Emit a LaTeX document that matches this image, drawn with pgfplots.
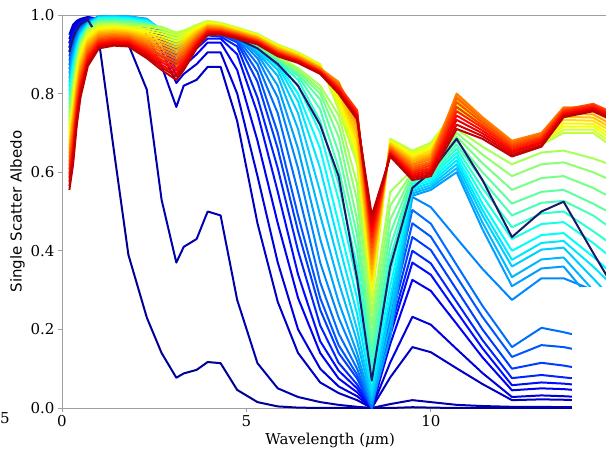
\documentclass[border=0pt]{standalone}
\usepackage{fontspec}
\setmainfont{DejaVu Serif}
\newfontfamily\sansfont{DejaVu Sans}
\usepackage{pgfplots}
\usepackage{pgfplotstable}
\pgfplotsset{compat=1.18}

% jet colours for the 40 curves
\pgfplotsforeachungrouped \k in {0,1,...,39}{%
  \pgfmathsetmacro\jt{0.02+0.92*\k/39}%
  \pgfmathsetmacro\jr{max(0,min(1,1.5-abs(4*\jt-3)))}%
  \pgfmathsetmacro\jg{max(0,min(1,1.5-abs(4*\jt-2)))}%
  \pgfmathsetmacro\jb{max(0,min(1,1.5-abs(4*\jt-1)))}%
  \definecolor{jet\k}{rgb}{\jr,\jg,\jb}%
}
\definecolor{navyc}{rgb}{0.10,0.10,0.42}

\pgfplotstableread{
id w1 w2 w3 w4 w5 w6 w7 w8 w9 w10 w11 w12 w13 w14 w15 w16 w17 w18 w19 w20 w21 w22 w23 w24 w25 w26 w27 w28 w29 w30 w31 w32 w33
x 0.2 0.3 0.4 0.5 0.7 1.0 1.4 1.8 2.3 2.7 3.1 3.3 3.65 3.95 4.3 4.75 5.3 5.85 6.4 7.0 7.5 8.0 8.4 8.9 9.5 10.0 10.7 11.4 12.2 13.0 13.6 14.4 15.0
c0 0.928 0.959 0.974 0.983 0.992 0.935 0.660 0.390 0.230 0.140 0.077 0.088 0.097 0.117 0.114 0.046 0.015 0.004 0.001 0 0 0 0 0 0.002 0.001 0 0 0 0 0 0 0
c1 0.917 0.950 0.969 0.980 0.990 0.945 0.940 0.925 0.810 0.530 0.370 0.410 0.430 0.500 0.490 0.275 0.114 0.050 0.028 0.015 0.008 0.003 0 0.010 0.020 0.015 0.008 0.005 0.003 0.003 0.002 0.002 0.001
c2 0.950 0.975 0.985 0.990 0.995 0.990 0.988 0.985 0.950 0.870 0.766 0.820 0.835 0.868 0.868 0.730 0.470 0.270 0.140 0.065 0.038 0.020 0 0.078 0.155 0.142 0.101 0.061 0.020 0.022 0.021 0.018 0.015
c3 0.939 0.967 0.980 0.987 0.993 0.991 0.990 0.988 0.965 0.910 0.827 0.850 0.875 0.905 0.905 0.800 0.590 0.370 0.200 0.100 0.055 0.030 0 0.116 0.232 0.212 0.150 0.089 0.028 0.032 0.030 0.026 0.022
c4 0.928 0.959 0.974 0.983 0.992 0.992 0.991 0.990 0.975 0.930 0.845 0.870 0.900 0.930 0.930 0.860 0.680 0.470 0.280 0.140 0.075 0.040 0 0.163 0.326 0.298 0.214 0.129 0.045 0.050 0.048 0.042 0.036
c5 0.917 0.950 0.969 0.980 0.990 0.993 0.993 0.991 0.982 0.940 0.860 0.885 0.915 0.940 0.940 0.900 0.750 0.550 0.340 0.170 0.095 0.050 0 0.185 0.370 0.339 0.245 0.152 0.058 0.065 0.062 0.055 0.048
c6 0.906 0.942 0.963 0.976 0.988 0.994 0.994 0.992 0.985 0.945 0.875 0.895 0.925 0.948 0.945 0.920 0.790 0.610 0.400 0.210 0.115 0.060 0 0.200 0.400 0.368 0.270 0.173 0.076 0.084 0.078 0.070 0.060
c7 0.895 0.934 0.958 0.973 0.987 0.995 0.995 0.993 0.987 0.950 0.885 0.905 0.930 0.953 0.950 0.930 0.830 0.660 0.450 0.250 0.140 0.075 0 0.218 0.435 0.402 0.301 0.200 0.100 0.115 0.108 0.095 0.080
c8 0.884 0.926 0.952 0.970 0.985 0.995 0.996 0.994 0.988 0.953 0.895 0.910 0.935 0.957 0.952 0.935 0.855 0.700 0.490 0.280 0.160 0.085 0 0.235 0.470 0.436 0.334 0.232 0.130 0.160 0.155 0.140 0.120
c9 0.873 0.917 0.947 0.966 0.983 0.996 0.997 0.995 0.989 0.956 0.900 0.915 0.940 0.960 0.955 0.940 0.875 0.750 0.550 0.320 0.190 0.100 0 0.252 0.504 0.469 0.364 0.260 0.155 0.204 0.193 0.175 0.150
c10 0.862 0.909 0.941 0.963 0.982 0.996 0.997 0.996 0.990 0.958 0.910 0.920 0.945 0.962 0.957 0.945 0.890 0.790 0.610 0.370 0.230 0.120 0.005 0.270 0.537 0.511 0.432 0.354 0.275 0.330 0.330 0.300 0.270
c11 0.851 0.901 0.936 0.959 0.980 0.996 0.997 0.996 0.990 0.960 0.915 0.925 0.950 0.963 0.958 0.948 0.900 0.820 0.660 0.430 0.270 0.140 0.010 0.180 0.540 0.555 0.600 0.455 0.310 0.355 0.360 0.270 0.200
c12 0.840 0.893 0.930 0.956 0.979 0.996 0.997 0.996 0.989 0.962 0.920 0.930 0.955 0.964 0.960 0.950 0.905 0.845 0.710 0.490 0.320 0.170 0.020 0.210 0.546 0.561 0.610 0.472 0.333 0.378 0.383 0.300 0.235
c13 0.829 0.884 0.925 0.953 0.977 0.995 0.996 0.995 0.988 0.963 0.924 0.933 0.957 0.965 0.961 0.950 0.910 0.860 0.750 0.550 0.370 0.200 0.030 0.245 0.552 0.567 0.620 0.490 0.360 0.403 0.408 0.330 0.270
c14 0.818 0.876 0.919 0.949 0.975 0.994 0.995 0.993 0.986 0.964 0.928 0.936 0.958 0.966 0.962 0.952 0.912 0.870 0.780 0.610 0.420 0.240 0.045 0.280 0.558 0.573 0.630 0.504 0.377 0.420 0.425 0.360 0.305
c15 0.807 0.868 0.914 0.946 0.974 0.992 0.993 0.991 0.984 0.964 0.932 0.939 0.960 0.967 0.963 0.952 0.915 0.875 0.800 0.660 0.470 0.280 0.065 0.310 0.564 0.579 0.640 0.520 0.400 0.440 0.445 0.385 0.335
c16 0.796 0.860 0.908 0.942 0.972 0.990 0.991 0.989 0.982 0.965 0.936 0.942 0.961 0.968 0.964 0.953 0.917 0.880 0.820 0.700 0.530 0.320 0.085 0.345 0.570 0.585 0.650 0.540 0.430 0.468 0.473 0.420 0.375
c17 0.785 0.851 0.903 0.939 0.970 0.988 0.989 0.987 0.980 0.966 0.940 0.945 0.963 0.969 0.965 0.953 0.918 0.882 0.835 0.730 0.570 0.360 0.105 0.380 0.576 0.591 0.660 0.560 0.460 0.495 0.500 0.450 0.410
c18 0.774 0.843 0.897 0.936 0.969 0.986 0.987 0.985 0.978 0.967 0.943 0.948 0.964 0.970 0.966 0.954 0.920 0.885 0.845 0.760 0.610 0.400 0.130 0.410 0.582 0.597 0.670 0.580 0.490 0.522 0.527 0.490 0.450
c19 0.763 0.835 0.892 0.932 0.967 0.984 0.985 0.982 0.976 0.968 0.946 0.951 0.966 0.971 0.967 0.955 0.922 0.888 0.850 0.785 0.650 0.440 0.155 0.445 0.588 0.603 0.680 0.600 0.520 0.550 0.555 0.520 0.490
c20 0.752 0.827 0.886 0.929 0.965 0.982 0.982 0.980 0.975 0.968 0.949 0.954 0.967 0.972 0.968 0.956 0.924 0.890 0.855 0.800 0.690 0.480 0.180 0.480 0.594 0.609 0.690 0.623 0.555 0.585 0.590 0.560 0.530
c21 0.741 0.818 0.881 0.925 0.964 0.980 0.980 0.977 0.973 0.969 0.952 0.957 0.969 0.973 0.969 0.957 0.926 0.893 0.860 0.810 0.720 0.530 0.210 0.515 0.600 0.615 0.700 0.645 0.590 0.620 0.625 0.600 0.575
c22 0.730 0.810 0.875 0.922 0.962 0.977 0.977 0.974 0.972 0.970 0.955 0.960 0.970 0.975 0.970 0.958 0.928 0.895 0.865 0.820 0.745 0.570 0.240 0.550 0.606 0.621 0.710 0.665 0.620 0.650 0.655 0.635 0.615
s 0.906 0.942 0.963 0.976 0.988 0.940 0.940 0.938 0.915 0.895 0.875 0.885 0.920 0.955 0.955 0.940 0.915 0.875 0.820 0.720 0.590 0.330 0.070 0.360 0.560 0.600 0.685 0.580 0.435 0.500 0.525 0.395 0.300
c23 0.720 0.800 0.870 0.920 0.960 0.975 0.976 0.973 0.970 0.965 0.955 0.960 0.975 0.985 0.980 0.968 0.952 0.925 0.905 0.875 0.760 0.620 0.270 0.685 0.655 0.675 0.760 0.720 0.655 0.670 0.700 0.700 0.660
c24 0.710 0.789 0.861 0.912 0.954 0.971 0.973 0.970 0.965 0.958 0.948 0.954 0.971 0.983 0.978 0.966 0.950 0.923 0.903 0.873 0.770 0.635 0.284 0.682 0.650 0.670 0.765 0.723 0.658 0.674 0.708 0.708 0.669
c25 0.699 0.778 0.851 0.904 0.949 0.968 0.969 0.966 0.960 0.952 0.940 0.948 0.968 0.981 0.976 0.964 0.949 0.921 0.902 0.872 0.780 0.649 0.298 0.679 0.646 0.664 0.770 0.725 0.661 0.678 0.716 0.716 0.679
c26 0.689 0.766 0.842 0.896 0.943 0.964 0.966 0.963 0.955 0.945 0.933 0.941 0.964 0.978 0.974 0.963 0.947 0.919 0.900 0.870 0.790 0.664 0.311 0.677 0.641 0.659 0.775 0.728 0.664 0.681 0.724 0.723 0.688
c27 0.679 0.755 0.833 0.888 0.938 0.960 0.963 0.960 0.950 0.939 0.925 0.935 0.960 0.976 0.973 0.961 0.945 0.918 0.898 0.869 0.800 0.678 0.325 0.674 0.636 0.654 0.780 0.730 0.668 0.685 0.733 0.731 0.698
c28 0.668 0.744 0.823 0.879 0.932 0.956 0.959 0.956 0.945 0.932 0.918 0.929 0.956 0.974 0.971 0.959 0.944 0.916 0.897 0.867 0.810 0.693 0.339 0.671 0.632 0.648 0.785 0.733 0.671 0.689 0.741 0.739 0.707
c29 0.658 0.733 0.814 0.871 0.926 0.953 0.956 0.953 0.940 0.926 0.910 0.923 0.953 0.972 0.969 0.958 0.942 0.914 0.895 0.866 0.820 0.708 0.353 0.668 0.627 0.643 0.790 0.735 0.674 0.693 0.749 0.747 0.716
c30 0.648 0.721 0.804 0.863 0.921 0.949 0.952 0.950 0.935 0.919 0.903 0.916 0.949 0.970 0.967 0.956 0.940 0.912 0.893 0.864 0.830 0.722 0.366 0.665 0.622 0.638 0.795 0.738 0.677 0.696 0.757 0.755 0.726
c31 0.638 0.710 0.795 0.855 0.915 0.945 0.949 0.947 0.930 0.913 0.895 0.910 0.945 0.968 0.965 0.954 0.939 0.910 0.892 0.863 0.827 0.737 0.380 0.663 0.618 0.633 0.800 0.740 0.680 0.700 0.765 0.763 0.735
c32 0.627 0.699 0.786 0.847 0.909 0.941 0.946 0.943 0.925 0.906 0.888 0.904 0.941 0.965 0.963 0.952 0.937 0.908 0.890 0.861 0.823 0.751 0.394 0.660 0.613 0.627 0.789 0.733 0.675 0.696 0.762 0.770 0.744
c33 0.617 0.688 0.776 0.839 0.904 0.938 0.942 0.940 0.920 0.899 0.880 0.898 0.938 0.963 0.961 0.951 0.935 0.906 0.888 0.859 0.820 0.758 0.408 0.657 0.608 0.622 0.778 0.726 0.670 0.691 0.759 0.774 0.749
c34 0.607 0.676 0.767 0.831 0.898 0.934 0.939 0.937 0.915 0.893 0.873 0.891 0.934 0.961 0.959 0.949 0.933 0.904 0.886 0.858 0.817 0.755 0.421 0.654 0.603 0.617 0.766 0.719 0.665 0.687 0.756 0.771 0.746
c35 0.596 0.665 0.758 0.823 0.893 0.930 0.936 0.933 0.910 0.886 0.865 0.885 0.930 0.959 0.958 0.947 0.932 0.903 0.885 0.856 0.813 0.751 0.435 0.651 0.599 0.611 0.755 0.713 0.660 0.683 0.753 0.768 0.743
c36 0.586 0.654 0.748 0.814 0.887 0.926 0.932 0.930 0.905 0.880 0.858 0.879 0.926 0.957 0.956 0.945 0.930 0.901 0.883 0.855 0.810 0.747 0.449 0.648 0.594 0.606 0.744 0.706 0.655 0.678 0.749 0.764 0.739
c37 0.576 0.643 0.739 0.806 0.881 0.923 0.929 0.927 0.900 0.873 0.850 0.873 0.923 0.954 0.954 0.944 0.928 0.899 0.881 0.853 0.807 0.743 0.463 0.646 0.589 0.601 0.733 0.699 0.650 0.674 0.746 0.761 0.736
c38 0.565 0.631 0.729 0.798 0.876 0.919 0.925 0.923 0.895 0.867 0.843 0.866 0.919 0.952 0.952 0.942 0.927 0.897 0.880 0.852 0.803 0.739 0.476 0.643 0.585 0.595 0.721 0.692 0.645 0.669 0.743 0.758 0.733
c39 0.555 0.620 0.720 0.790 0.870 0.915 0.922 0.920 0.890 0.860 0.835 0.860 0.915 0.950 0.950 0.940 0.925 0.895 0.878 0.850 0.800 0.735 0.490 0.640 0.580 0.590 0.710 0.685 0.640 0.665 0.740 0.755 0.730
}\rawdata
\pgfplotstabletranspose[colnames from=id]{\data}{\rawdata}

\begin{document}
\begin{tikzpicture}
\begin{axis}[
  scale only axis, width=544pt, height=393pt,
  xmin=0, xmax=14.75, ymin=0, ymax=1,
  axis x line*=box, axis y line*=left,
  axis line style={draw=gray!75, line width=0.9pt},
  xtick={0,5,10}, ytick={0,0.2,0.4,0.6,0.8,1.0},
  xtick pos=left, ytick pos=left,
  tick align=outside, major tick length=4pt,
  tick style={gray!75, line width=0.9pt},
  yticklabel style={/pgf/number format/.cd, fixed, fixed zerofill, precision=1},
  /pgf/number format/assume math mode=true,
  tick label style={font=\fontsize{15}{18}\selectfont, text=black},
  label style={font=\fontsize{15}{18}\selectfont},
  xlabel={Wavelength ({\itshape μ}m)},
  ylabel={{\sansfont Single Scatter Albedo}},
  xlabel style={at={(axis description cs:0.493,-0.056)}, anchor=north},
  ylabel style={at={(axis description cs:-0.062,0.5)}, anchor=south},
  no markers, clip=false,
  every axis plot/.append style={line width=2pt, line join=round},
]
\pgfplotsinvokeforeach{0,...,22}{\addplot[jet#1] table[x=x,y=c#1]{\data};}
\addplot[navyc] table[x=x,y=s]{\data};
\pgfplotsinvokeforeach{23,...,39}{\addplot[jet#1] table[x=x,y=c#1]{\data};}
\coordinate (bl) at (rel axis cs:0,0);
\coordinate (br) at (rel axis cs:1,0);
\coordinate (tr) at (rel axis cs:1,1);
\end{axis}
\fill[white] ([xshift=-34pt,yshift=-3pt]br) rectangle ([xshift=3pt,yshift=121pt]br);
\node[font=\fontsize{15}{18}\selectfont, anchor=base west, inner sep=0pt] at ([xshift=-62pt,yshift=-16pt]bl) {5};
\pgfresetboundingbox
\useasboundingbox ([xshift=-62pt,yshift=-43pt]bl) rectangle ([yshift=15pt]tr);
\end{tikzpicture}
\end{document}
